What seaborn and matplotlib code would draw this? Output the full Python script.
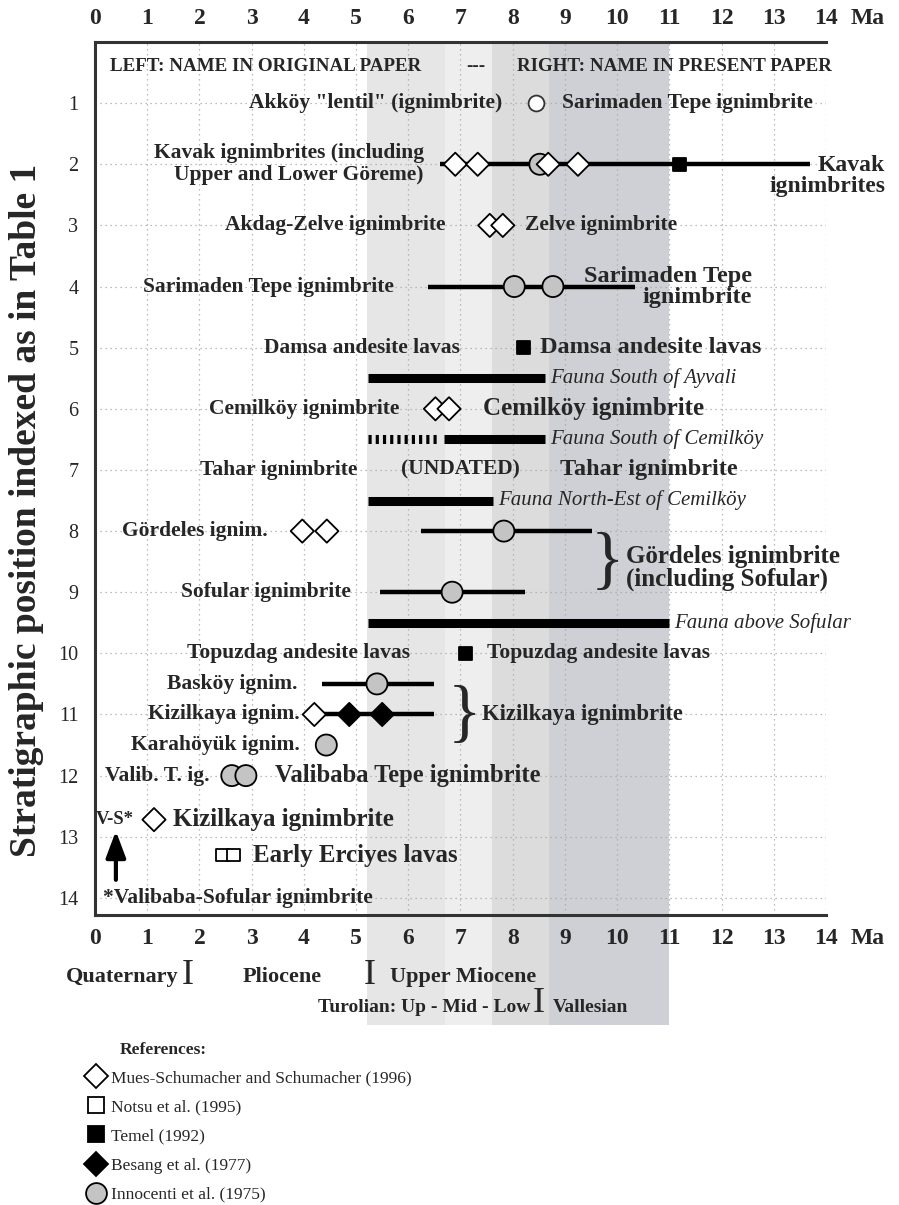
import matplotlib
matplotlib.use("Agg")
import matplotlib.pyplot as plt
from matplotlib.lines import Line2D
import pandas as pd
import seaborn as sns

# ---- data: ages in Ma, rows = stratigraphic position indexed as in Table 1 ----
ref_names = ["Mues-Schumacher and Schumacher (1996)", "Notsu et al. (1995)",
             "Temel (1992)", "Besang et al. (1977)", "Innocenti et al. (1975)"]

innocenti_rows = [2, 4, 4, 8, 9, 10.5, 11.5, 12, 12]
innocenti_ages = [8.52, 8.03, 8.77, 7.83, 6.84, 5.4, 4.43, 2.62, 2.89]
mues_rows = [2, 2, 2, 2, 3, 3, 6, 6, 8, 8, 11, 12.72]
mues_ages = [6.9, 7.33, 8.68, 9.25, 7.56, 7.81, 6.52, 6.78, 3.97, 4.44, 4.2, 1.13]
notsu_rows = [13.3, 13.3]
notsu_ages = [2.44, 2.66]
temel_rows = [2, 5, 10]
temel_ages = [11.2, 8.21, 7.1]
besang_rows = [11, 11]
besang_ages = [4.87, 5.5]
akkoy_rows = [1]
akkoy_ages = [8.45]

# age ranges of the dated units
range_rows = [2, 4, 8, 9, 10.5, 11]
range_from = [6.61, 6.38, 6.25, 5.46, 4.34, 4.2]
range_to = [13.7, 10.34, 9.51, 8.23, 6.5, 6.5]

# mammal faunas
fauna_rows = [5.5, 6.5, 7.5, 9.5]
fauna_from = [5.22, 6.68, 5.22, 5.22]
fauna_to = [8.62, 8.62, 7.62, 11.0]
fauna_names = ["Fauna South of Ayvali", "Fauna South of Cemilköy",
               "Fauna North-Est of Cemilköy", "Fauna above Sofular"]
fauna_uncertain_from = [5.22]
fauna_uncertain_to = [6.6]

# MN stages shaded in the background
stage_from = [5.2, 6.7, 7.6, 8.7]
stage_to = [6.7, 7.6, 8.7, 11.0]

original_rows = [1, 2, 3, 4, 5, 6, 7, 8, 9, 10, 10.5, 11, 11.5, 12]
original_names = ['Akköy "lentil" (ignimbrite)',
                  "Kavak ignimbrites (including\nUpper and Lower Göreme)",
                  "Akdag-Zelve ignimbrite", "Sarimaden Tepe ignimbrite",
                  "Damsa andesite lavas", "Cemilköy ignimbrite", "Tahar ignimbrite",
                  "Gördeles ignim.", "Sofular ignimbrite", "Topuzdag andesite lavas",
                  "Basköy ignim.", "Kizilkaya ignim.", "Karahöyük ignim.", "Valib. T. ig."]

present_rows = [1, 2.2, 3, 4, 5, 6, 7, 8.6, 10, 11, 12, 12.72, 13.3]
present_names = ["Sarimaden Tepe ignimbrite", "Kavak\nignimbrites", "Zelve ignimbrite",
                 "Sarimaden Tepe\nignimbrite", "Damsa andesite lavas",
                 "Cemilköy ignimbrite", "Tahar ignimbrite",
                 "Gördeles ignimbrite\n(including Sofular)", "Topuzdag andesite lavas",
                 "Kizilkaya ignimbrite", "Valibaba Tepe ignimbrite",
                 "Kizilkaya ignimbrite", "Early Erciyes lavas"]

x_ticks = list(range(15))
y_ticks = list(range(1, 15))

# ---- figure ----
sns.set_theme(style="white")
plt.rcParams["font.family"] = ["Liberation Serif", "DejaVu Serif"]
plt.rcParams["font.weight"] = "bold"

W, H = 899, 1205
L, R, T, B = 95, 826, 42, 915
fig = plt.figure(figsize=(W / 100, H / 100), dpi=100)
ax = fig.add_axes([L / W, 1 - B / H, (R - L) / W, (B - T) / H])
ax.set_xlim(0, 14)
ax.set_ylim(14.28, 0)


def fy(px):
    # figure pixel row -> axes fraction
    return (B - px) / (B - T)


xtr = ax.get_xaxis_transform()

# shaded stages, running down under the epoch labels
stage_colors = ["#e6e6e6", "#eeeeee", "#dcdcdc", "#cfd0d5"]
for a, b, c in zip(stage_from, stage_to, stage_colors):
    ax.axvspan(a, b, ymin=fy(1025), ymax=1, color=c, lw=0, zorder=0.2, clip_on=False)

ax.set_axisbelow(True)
ax.set_xticks(x_ticks)
ax.set_yticks(y_ticks)
ax.grid(True, color="#a8a8a8", linestyle=(0, (1, 3)), lw=0.9)
ax.tick_params(length=0)
ax.tick_params(axis="x", labeltop=True, labelbottom=True, pad=9, labelsize=17)
ax.tick_params(axis="y", pad=12, labelsize=14.5)
ax.set_xticklabels([str(v) for v in x_ticks], fontweight="bold")
ax.set_yticklabels([str(v) for v in y_ticks], fontweight="normal")
for side in ["left", "top", "bottom"]:
    ax.spines[side].set_color("#333333")
    ax.spines[side].set_linewidth(2.2)
ax.spines["right"].set_visible(False)

for yy in [fy(18), fy(938)]:
    ax.text(14.8, yy, "Ma", transform=xtr, ha="center", va="center", fontsize=17)

# ranges and faunas
ax.hlines(range_rows, range_from, range_to, color="black", lw=3.2, zorder=2)
ax.hlines(fauna_rows, fauna_from, fauna_to, color="black", lw=6.5, zorder=2)
ax.hlines([6.5], fauna_uncertain_from, fauna_uncertain_to, color="black", lw=6.5,
          linestyles=[(0, (0.35, 0.45))], zorder=2)
for r, x1, name in zip(fauna_rows, fauna_to, fauna_names):
    ax.text(x1 + 0.1, r, name, ha="left", va="center", fontsize=15,
            fontweight="normal", style="italic")

# dated samples
pts = pd.DataFrame({
    "age": innocenti_ages + mues_ages + notsu_ages + temel_ages + besang_ages,
    "row": innocenti_rows + mues_rows + notsu_rows + temel_rows + besang_rows,
    "ref": [ref_names[4]] * len(innocenti_ages) + [ref_names[0]] * len(mues_ages)
    + [ref_names[1]] * len(notsu_ages) + [ref_names[2]] * len(temel_ages)
    + [ref_names[3]] * len(besang_ages),
})
ref_marker = dict(zip(ref_names, ["D", "s", "s", "D", "o"]))
ref_face = dict(zip(ref_names, ["white", "white", "black", "black", "#c4c4c4"]))
ref_size = dict(zip(ref_names, [140, 85, 90, 140, 230]))
sns.scatterplot(data=pts, x="age", y="row", hue="ref", style="ref", size="ref",
                hue_order=ref_names, style_order=ref_names, size_order=ref_names,
                palette=ref_face, markers=ref_marker, sizes=ref_size,
                edgecolor="black", linewidth=1.3, legend=False, zorder=3, ax=ax)
sns.scatterplot(x=akkoy_ages, y=akkoy_rows, marker="o", color="white",
                edgecolor="#333333", linewidth=1.3, s=130, legend=False, zorder=3, ax=ax)
ax.set_xlabel("")
ax.set_ylabel("Stratigraphic position indexed as in Table 1", fontsize=27, fontweight="bold")
ax.yaxis.set_label_coords(-(L - 44) / (R - L), fy(510))

# names: left = original paper, right = present paper
left_x = [7.8, 6.3, 6.72, 5.73, 6.99, 5.83, 5.03, 3.3, 4.9, 6.04, 3.87, 3.93, 3.93, 2.2]
for r, x, name in zip(original_rows, left_x, original_names):
    ax.text(x, r, name, ha="right", va="center", fontsize=15.5, linespacing=1.15,
            multialignment="right")

present_x = [8.95, 15.13, 8.23, 12.58, 8.52, 7.43, 8.9, 10.17, 7.5, 7.42, 3.45, 1.5, 3.02]
present_ha = ["left", "right", "left", "right", "left", "left", "left", "left",
              "left", "left", "left", "left", "left"]
present_fs = [15.5, 17, 15.5, 17.5, 17.5, 18, 17.5, 18, 15.5, 16.3, 17.7, 18, 18]
for r, x, name, ha, fs in zip(present_rows, present_x, present_names, present_ha, present_fs):
    ax.text(x, r, name, ha=ha, va="center", fontsize=fs, linespacing=1.0,
            multialignment=ha)

ax.text(9.82, 8.55, "}", ha="center", va="center", fontsize=50, fontweight="normal")
ax.text(7.07, 11.05, "}", ha="center", va="center", fontsize=50, fontweight="normal")

ax.text(0.28, 0.4, "LEFT: NAME IN ORIGINAL PAPER", ha="left", va="center", fontsize=13.7)
ax.text(7.3, 0.4, "---", ha="center", va="center", fontsize=13.7)
ax.text(8.08, 0.4, "RIGHT: NAME IN PRESENT PAPER", ha="left", va="center", fontsize=13.7)
ax.text(7.0, 7, "(UNDATED)", ha="center", va="center", fontsize=15.5)
ax.text(0.02, 12.72, "V-S*", ha="left", va="center", fontsize=13.5)
ax.text(0.15, 14.0, "*Valibaba-Sofular ignimbrite", ha="left", va="center", fontsize=15.5)
ax.annotate("", xy=(0.4, 12.86), xytext=(0.4, 13.75),
            arrowprops=dict(arrowstyle="-|>,head_length=0.8,head_width=0.3",
                            mutation_scale=20, lw=3, color="black"))

# epochs and stages
ax.text(1.6, fy(977), "Quaternary", transform=xtr, ha="right", va="center", fontsize=16)
ax.text(3.59, fy(977), "Pliocene", transform=xtr, ha="center", va="center", fontsize=16)
ax.text(5.65, fy(977), "Upper Miocene", transform=xtr, ha="left", va="center", fontsize=16)
ax.text(8.33, fy(1007), "Turolian: Up - Mid - Low", transform=xtr, ha="right",
        va="center", fontsize=14)
ax.text(8.77, fy(1007), "Vallesian", transform=xtr, ha="left", va="center", fontsize=14)
for x, py in [(1.78, 975), (5.27, 975), (8.5, 1004)]:
    ax.text(x, fy(py), "I", transform=xtr, ha="center", va="center", fontsize=26,
            fontweight="normal")

# references
fig.text(120 / W, 1 - 1050 / H, "References:", ha="left", va="center", fontsize=12.5)
handles = [Line2D([], [], ls="None", marker=ref_marker[n], markerfacecolor=ref_face[n],
                  markeredgecolor="black", markeredgewidth=1.3,
                  markersize=15 if ref_marker[n] == "o" else 12)
           for n in ref_names]
fig.legend(handles, ref_names, loc="upper left", bbox_to_anchor=(86 / W, 1 - 1070 / H),
           frameon=False, prop=dict(family="Liberation Serif", size=12.5, weight="normal"),
           handlelength=1.1, handletextpad=0.35, labelspacing=0.75, borderpad=0,
           borderaxespad=0)

fig.savefig("out.png", dpi=100)
